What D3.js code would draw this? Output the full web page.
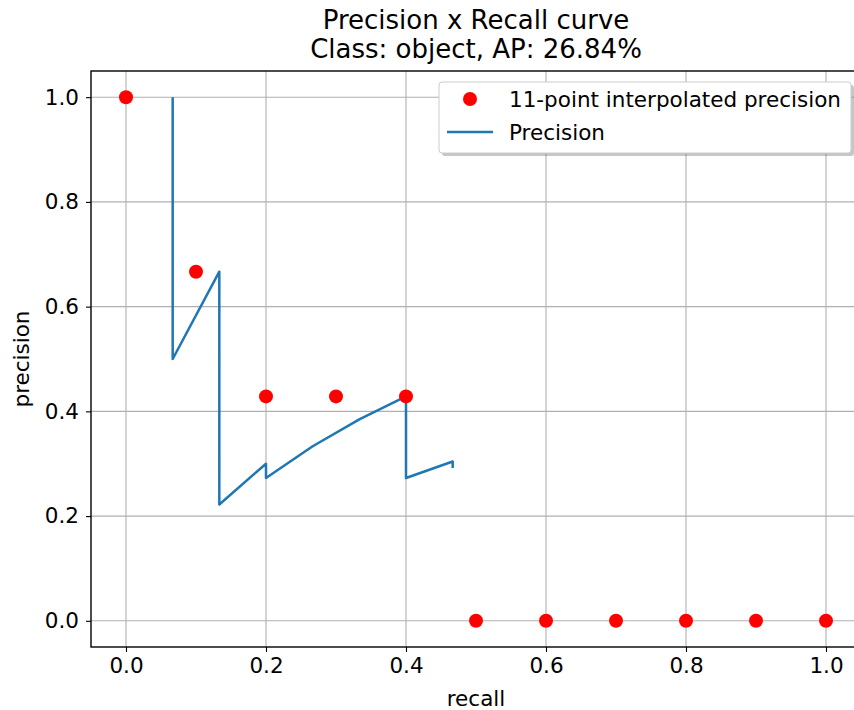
<!DOCTYPE html>
<html><head><meta charset="utf-8">
<script src="https://cdn.jsdelivr.net/npm/d3@7"></script>
<style>body{margin:0;background:#fff}svg{display:block}text{font-family:"DejaVu Sans",sans-serif;fill:#000}</style>
</head><body><svg id="c" width="854" height="710"></svg>
<script>
const interpRecall = [0.0,0.1,0.2,0.3,0.4,0.5,0.6,0.7,0.8,0.9,1.0];
const interpPrecision = [1.0,0.6667,0.4286,0.4286,0.4286,0,0,0,0,0,0];
const curveRecall = [0.0667,0.0667,0.1333,0.1333,0.2,0.2,0.2667,0.3333,0.4,0.4,0.4667,0.4667];
const curvePrecision = [1.0,0.5,0.6667,0.2222,0.3,0.2727,0.3333,0.3846,0.4286,0.2727,0.3043,0.2917];
const xTicks = [0.0,0.2,0.4,0.6,0.8,1.0];
const yTicks = [0.0,0.2,0.4,0.6,0.8,1.0];
const titleLines = ["Precision x Recall curve","Class: object, AP: 26.84%"];
const legendLabels = ["11-point interpolated precision","Precision"];

const svg = d3.select("#c");
const L=91, R=861, T=71, B=647;
const x = d3.scaleLinear().domain([-0.05,1.05]).range([L,R]);
const y = d3.scaleLinear().domain([-0.05,1.05]).range([B,T]);
const fs = 21.5;

const g = svg.append("g");
g.selectAll(".gx").data(xTicks).join("line").attr("x1",d=>x(d)).attr("x2",d=>x(d)).attr("y1",T).attr("y2",B).attr("stroke","#b0b0b0").attr("stroke-width",1.1);
g.selectAll(".gy").data(yTicks).join("line").attr("y1",d=>y(d)).attr("y2",d=>y(d)).attr("x1",L).attr("x2",R).attr("stroke","#b0b0b0").attr("stroke-width",1.1);

const xa = svg.append("g").attr("transform",`translate(0,${B})`).call(d3.axisBottom(x).tickValues(xTicks).tickFormat(d3.format(".1f")).tickSizeOuter(0).tickSize(5).tickPadding(6));
const ya = svg.append("g").attr("transform",`translate(${L},0)`).call(d3.axisLeft(y).tickValues(yTicks).tickFormat(d3.format(".1f")).tickSizeOuter(0).tickSize(5).tickPadding(7));
[xa,ya].forEach(a=>{a.attr("font-family","DejaVu Sans").attr("font-size",fs);a.select(".domain").remove();a.selectAll("text").attr("font-size",fs).attr("font-family","DejaVu Sans").attr("fill","#000");a.selectAll("line").attr("stroke","#000").attr("stroke-width",1.1);});

const line = d3.line().x((d,i)=>x(curveRecall[i])).y((d,i)=>y(curvePrecision[i]));
svg.append("path").datum(curveRecall).attr("d",line).attr("fill","none").attr("stroke","#1f77b4").attr("stroke-width",2.5).attr("stroke-linejoin","round");

svg.selectAll(".pt").data(interpRecall).join("circle").attr("cx",d=>x(d)).attr("cy",(d,i)=>y(interpPrecision[i])).attr("r",7).attr("fill","#ff0000");

svg.append("rect").attr("x",L).attr("y",T).attr("width",R-L).attr("height",B-T).attr("fill","none").attr("stroke","#000").attr("stroke-width",1.4);

svg.selectAll(".tt").data(titleLines).join("text").attr("x",(L+R)/2).attr("y",(d,i)=>29+i*28.5).attr("text-anchor","middle").attr("font-size",26).text(d=>d);
svg.append("text").attr("x",(L+R)/2).attr("y",706).attr("text-anchor","middle").attr("font-size",fs).text("recall");
svg.append("text").attr("transform",`translate(29,${(T+B)/2}) rotate(-90)`).attr("text-anchor","middle").attr("font-size",fs).text("precision");

const lg = svg.append("g");
lg.append("rect").attr("x",442).attr("y",85).attr("width",412).attr("height",71).attr("rx",3).attr("fill","#808080").attr("opacity",0.45);
lg.append("rect").attr("x",439).attr("y",82).attr("width",412).attr("height",71).attr("rx",3).attr("fill","#fff").attr("stroke","#ccc").attr("stroke-width",1);
lg.append("circle").attr("cx",470).attr("cy",99).attr("r",7).attr("fill","#ff0000");
lg.append("line").attr("x1",447).attr("x2",493).attr("y1",132).attr("y2",132).attr("stroke","#1f77b4").attr("stroke-width",2.5);
lg.selectAll(".lt").data(legendLabels).join("text").attr("x",509).attr("y",(d,i)=>99+i*33).attr("dy","0.35em").attr("font-size",fs).text(d=>d);
</script></body></html>
